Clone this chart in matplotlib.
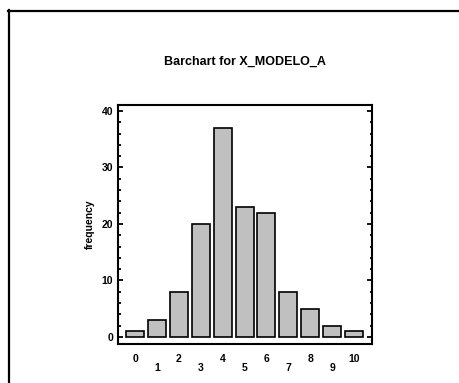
import matplotlib.pyplot as plt
from matplotlib.lines import Line2D
from matplotlib.ticker import MultipleLocator

# data
categories = [0, 1, 2, 3, 4, 5, 6, 7, 8, 9, 10]
frequency = [1, 3, 8, 20, 37, 23, 22, 8, 5, 2, 1]
title = "Barchart for X_MODELO_A"
ylabel = "frequency"

plt.rcParams['font.family'] = ['Liberation Sans', 'DejaVu Sans']

W, H = 459, 383
fig = plt.figure(figsize=(W / 100, H / 100), dpi=100)

# screenshot frame (top and left edges)
fig.add_artist(Line2D([8 / W, 1], [1 - 10.5 / H] * 2, transform=fig.transFigure,
                      color='black', lw=1.6))
fig.add_artist(Line2D([8.5 / W] * 2, [0, 1 - 10 / H], transform=fig.transFigure,
                      color='black', lw=1.6))

ax = fig.add_axes([118 / W, 1 - 344 / H, 254 / W, 239 / H])
ax.bar(categories, frequency, width=0.82, color='#c0c0c0', edgecolor='black',
       linewidth=1.2)

ax.set_xlim(-0.78, 10.82)
ax.set_ylim(-1.24, 41.06)

for s in ax.spines.values():
    s.set_linewidth(1.5)

# y axis ticks: inward, mirrored on the right
ax.yaxis.set_major_locator(MultipleLocator(10))
ax.yaxis.set_minor_locator(MultipleLocator(2))
ax.tick_params(axis='y', which='both', direction='in', right=True, width=1.3)
ax.tick_params(axis='y', which='major', length=3.5, pad=3.5, labelsize=7.5)
ax.tick_params(axis='y', which='minor', length=1.8)
for lab in ax.get_yticklabels():
    lab.set_fontweight('bold')

# x labels: even ones high, odd ones low
even = [c for c in categories if c % 2 == 0]
odd = [c for c in categories if c % 2 == 1]
ax.set_xticks(even)
ax.set_xticklabels([str(c) for c in even], fontweight='bold')
ax.set_xticks(odd, minor=True)
ax.set_xticklabels([str(c) for c in odd], minor=True, fontweight='bold')
ax.tick_params(axis='x', which='major', length=0, pad=7.5, labelsize=7.5)
ax.tick_params(axis='x', which='minor', length=0, pad=14, labelsize=7.5)

ax.set_ylabel(ylabel, fontsize=7.5, fontweight='bold', labelpad=5)
fig.text(245 / W, 1 - 62 / H, title, ha='center', va='center', fontsize=9,
         fontweight='bold')

fig.savefig('out.png', dpi=100)
